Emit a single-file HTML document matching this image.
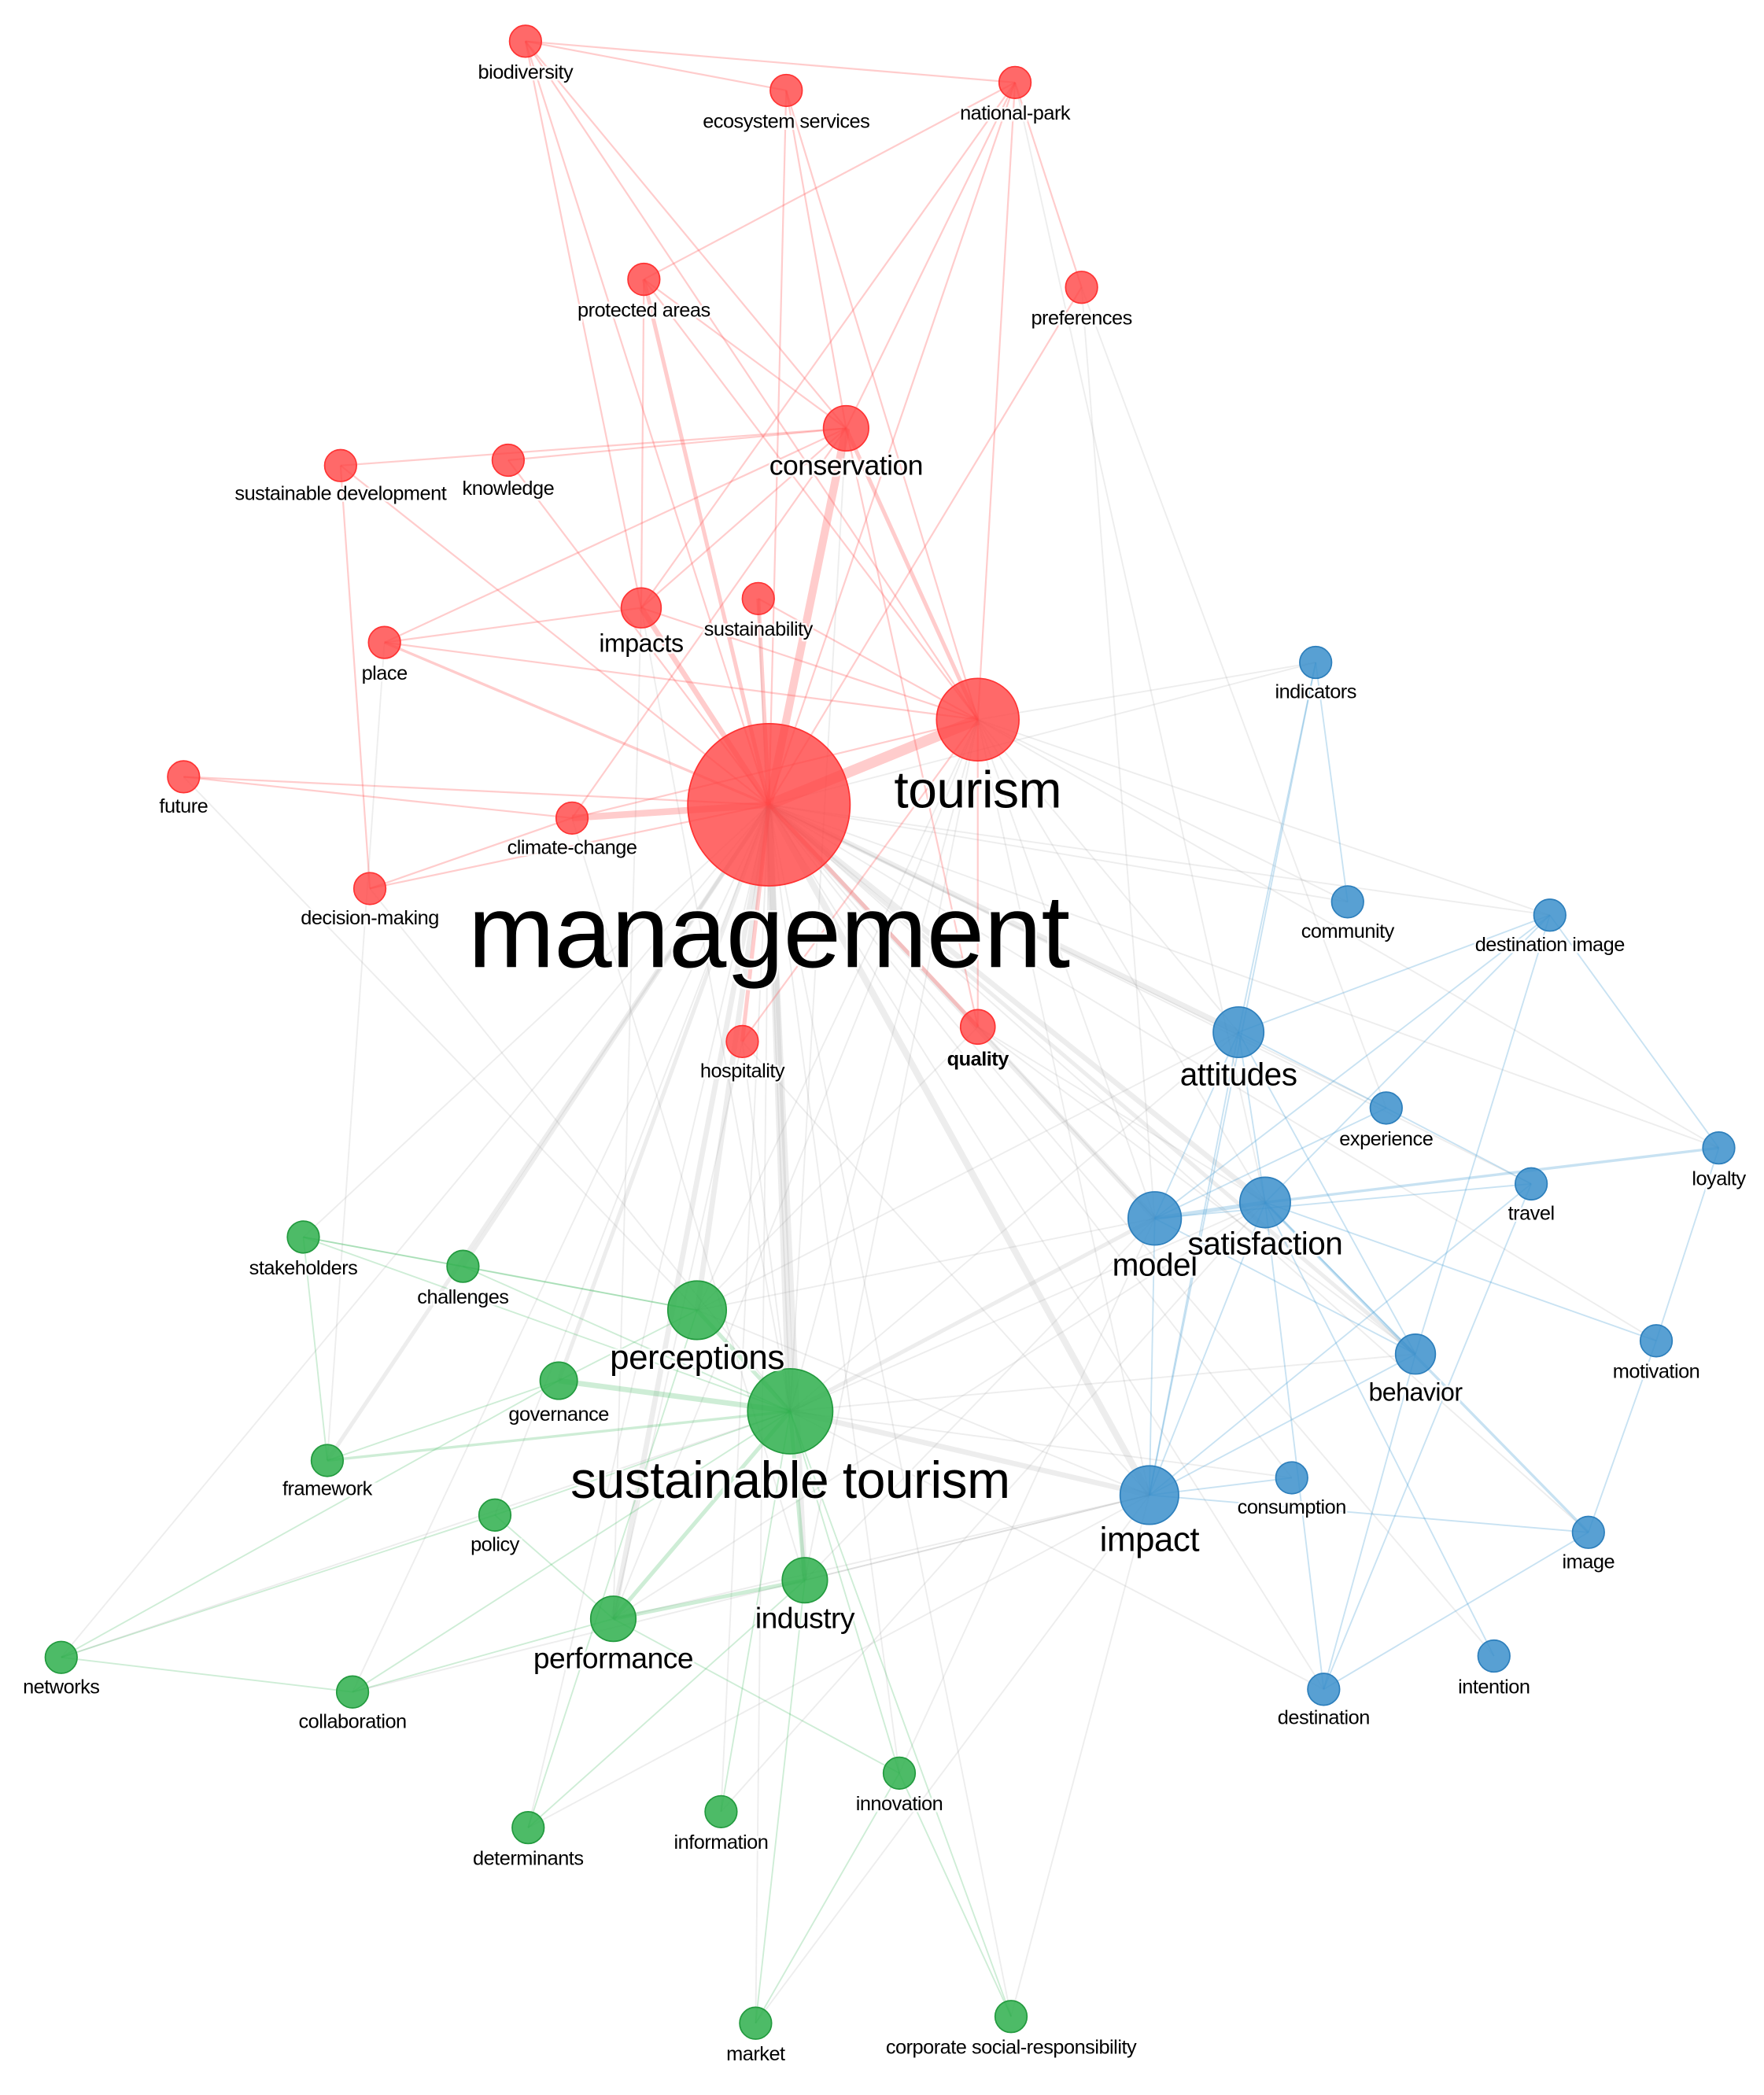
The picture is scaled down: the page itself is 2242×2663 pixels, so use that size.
<!DOCTYPE html>
<html><head><meta charset="utf-8"><style>
html,body{margin:0;padding:0;background:#fff;}
svg{display:block;}
text{font-family:"Liberation Sans",sans-serif;fill:#000;text-anchor:middle;stroke:#fff;stroke-width:3px;paint-order:stroke;stroke-opacity:.8;letter-spacing:-0.3px}
.g line{stroke:#999;stroke-opacity:.18;stroke-width:1.1}
.r line{stroke:#f55;stroke-opacity:.3;stroke-width:1.3}
.b line{stroke:#4a9fd4;stroke-opacity:.3;stroke-width:1.1}
.gr line{stroke:#3cb85a;stroke-opacity:.25;stroke-width:1.1}
.rn circle{fill:#f44;fill-opacity:.8;stroke:#f33;stroke-width:1}
.bn circle{fill:#3b8fcb;fill-opacity:.85;stroke:#2d7fbc;stroke-width:1}
.gn circle{fill:#2eaf4c;fill-opacity:.85;stroke:#229a3e;stroke-width:1}
</style></head><body>
<svg width="2242" height="2663" viewBox="0 0 1326 1575" xmlns="http://www.w3.org/2000/svg">
<g class="g">
<line x1="578" y1="605" x2="989" y2="498"/><line x1="578" y1="605" x2="1013" y2="678"/><line x1="578" y1="605" x2="1165" y2="688"/>
<line x1="578" y1="605" x2="931" y2="776" style="stroke-width:4"/><line x1="578" y1="605" x2="1042" y2="833"/><line x1="578" y1="605" x2="1292" y2="863"/>
<line x1="578" y1="605" x2="1151" y2="890"/><line x1="578" y1="605" x2="868" y2="916" style="stroke-width:4"/><line x1="578" y1="605" x2="951" y2="904" style="stroke-width:4"/>
<line x1="578" y1="605" x2="1245" y2="1008"/><line x1="578" y1="605" x2="1064" y2="1018" style="stroke-width:3"/><line x1="578" y1="605" x2="971" y2="1111"/>
<line x1="578" y1="605" x2="864" y2="1124" style="stroke-width:5"/><line x1="578" y1="605" x2="1194" y2="1152"/><line x1="578" y1="605" x2="1123" y2="1245"/>
<line x1="578" y1="605" x2="995" y2="1270"/>
<line x1="578" y1="605" x2="228" y2="930"/><line x1="578" y1="605" x2="348" y2="952" style="stroke-width:3"/><line x1="578" y1="605" x2="524" y2="985" style="stroke-width:4"/>
<line x1="578" y1="605" x2="420" y2="1038" style="stroke-width:3"/><line x1="578" y1="605" x2="594" y2="1061" style="stroke-width:6"/><line x1="578" y1="605" x2="246" y2="1098" style="stroke-width:3"/>
<line x1="578" y1="605" x2="372" y2="1139"/><line x1="578" y1="605" x2="605" y2="1188" style="stroke-width:4"/><line x1="578" y1="605" x2="461" y2="1217" style="stroke-width:4"/>
<line x1="578" y1="605" x2="46" y2="1246"/><line x1="578" y1="605" x2="265" y2="1272"/><line x1="578" y1="605" x2="676" y2="1333"/>
<line x1="578" y1="605" x2="542" y2="1362"/><line x1="578" y1="605" x2="397" y2="1374"/><line x1="578" y1="605" x2="568" y2="1521"/><line x1="578" y1="605" x2="760" y2="1516"/>
<line x1="735" y1="541" x2="931" y2="776"/><line x1="735" y1="541" x2="868" y2="916"/><line x1="735" y1="541" x2="951" y2="904"/><line x1="735" y1="541" x2="864" y2="1124"/>
<line x1="735" y1="541" x2="1165" y2="688"/><line x1="735" y1="541" x2="1013" y2="678"/><line x1="735" y1="541" x2="989" y2="498"/><line x1="735" y1="541" x2="1292" y2="863"/>
<line x1="735" y1="541" x2="524" y2="985"/><line x1="735" y1="541" x2="594" y2="1061"/><line x1="735" y1="541" x2="461" y2="1217"/><line x1="735" y1="541" x2="605" y2="1188"/>
<line x1="594" y1="1061" x2="868" y2="916" style="stroke-width:3"/><line x1="594" y1="1061" x2="864" y2="1124" style="stroke-width:4"/><line x1="594" y1="1061" x2="931" y2="776"/>
<line x1="594" y1="1061" x2="951" y2="904"/><line x1="594" y1="1061" x2="1064" y2="1018"/><line x1="594" y1="1061" x2="971" y2="1111"/><line x1="594" y1="1061" x2="995" y2="1270"/>
<line x1="594" y1="1061" x2="558" y2="783"/><line x1="594" y1="1061" x2="482" y2="457"/><line x1="594" y1="1061" x2="636" y2="322"/><line x1="594" y1="1061" x2="570" y2="450"/>
<line x1="864" y1="1124" x2="461" y2="1217"/><line x1="864" y1="1124" x2="605" y2="1188"/><line x1="864" y1="1124" x2="524" y2="985"/><line x1="864" y1="1124" x2="265" y2="1272"/>
<line x1="868" y1="916" x2="524" y2="985"/><line x1="868" y1="916" x2="605" y2="1188"/><line x1="931" y1="776" x2="524" y2="985"/><line x1="951" y1="904" x2="461" y2="1217"/>
<line x1="813" y1="216" x2="868" y2="916"/><line x1="813" y1="216" x2="1042" y2="833"/><line x1="763" y1="62" x2="951" y2="904"/><line x1="138" y1="584" x2="524" y2="985"/>
<line x1="278" y1="668" x2="594" y2="1061"/><line x1="430" y1="615" x2="605" y2="1188"/><line x1="289" y1="483" x2="246" y2="1098"/><line x1="482" y1="457" x2="461" y2="1217"/>
<line x1="735" y1="772" x2="868" y2="916"/><line x1="735" y1="772" x2="951" y2="904"/><line x1="735" y1="772" x2="1064" y2="1018"/><line x1="735" y1="772" x2="524" y2="985"/>
<line x1="558" y1="783" x2="461" y2="1217"/><line x1="558" y1="783" x2="864" y2="1124"/><line x1="760" y1="1516" x2="864" y2="1124"/><line x1="568" y1="1521" x2="864" y2="1124"/>
<line x1="46" y1="1246" x2="594" y2="1061"/><line x1="397" y1="1374" x2="864" y2="1124"/><line x1="542" y1="1362" x2="951" y2="904"/><line x1="676" y1="1333" x2="868" y2="916"/>
</g>
<g class="r">
<line x1="578" y1="605" x2="735" y2="541" style="stroke-width:8"/><line x1="578" y1="605" x2="636" y2="322" style="stroke-width:6"/><line x1="578" y1="605" x2="482" y2="457" style="stroke-width:4"/>
<line x1="578" y1="605" x2="570" y2="450" style="stroke-width:3"/><line x1="578" y1="605" x2="484" y2="210" style="stroke-width:3"/><line x1="578" y1="605" x2="395" y2="31"/>
<line x1="578" y1="605" x2="591" y2="68"/><line x1="578" y1="605" x2="763" y2="62"/><line x1="578" y1="605" x2="813" y2="216"/><line x1="578" y1="605" x2="256" y2="350"/>
<line x1="578" y1="605" x2="382" y2="346"/><line x1="578" y1="605" x2="289" y2="483" style="stroke-width:2"/><line x1="578" y1="605" x2="138" y2="584"/>
<line x1="578" y1="605" x2="430" y2="615" style="stroke-width:5"/><line x1="578" y1="605" x2="278" y2="668"/><line x1="578" y1="605" x2="558" y2="783" style="stroke-width:3"/>
<line x1="578" y1="605" x2="735" y2="772" style="stroke-width:3"/>
<line x1="735" y1="541" x2="636" y2="322" style="stroke-width:3"/><line x1="735" y1="541" x2="482" y2="457"/><line x1="735" y1="541" x2="570" y2="450"/><line x1="735" y1="541" x2="484" y2="210"/>
<line x1="735" y1="541" x2="395" y2="31"/><line x1="735" y1="541" x2="763" y2="62"/><line x1="735" y1="541" x2="289" y2="483"/><line x1="735" y1="541" x2="430" y2="615"/>
<line x1="735" y1="541" x2="735" y2="772"/><line x1="735" y1="541" x2="558" y2="783"/><line x1="735" y1="541" x2="591" y2="68"/>
<line x1="395" y1="31" x2="591" y2="68"/><line x1="395" y1="31" x2="763" y2="62"/><line x1="395" y1="31" x2="636" y2="322"/><line x1="395" y1="31" x2="482" y2="457"/>
<line x1="591" y1="68" x2="636" y2="322"/><line x1="763" y1="62" x2="484" y2="210"/><line x1="763" y1="62" x2="636" y2="322"/><line x1="763" y1="62" x2="813" y2="216"/><line x1="763" y1="62" x2="482" y2="457"/>
<line x1="484" y1="210" x2="636" y2="322"/><line x1="484" y1="210" x2="482" y2="457"/><line x1="256" y1="350" x2="636" y2="322"/><line x1="256" y1="350" x2="278" y2="668"/>
<line x1="382" y1="346" x2="636" y2="322"/><line x1="289" y1="483" x2="636" y2="322"/><line x1="289" y1="483" x2="482" y2="457"/><line x1="138" y1="584" x2="430" y2="615"/>
<line x1="278" y1="668" x2="430" y2="615"/><line x1="636" y1="322" x2="482" y2="457"/><line x1="636" y1="322" x2="735" y2="772"/><line x1="636" y1="322" x2="430" y2="615"/>
</g>
<g class="b">
<line x1="989" y1="498" x2="1013" y2="678"/><line x1="989" y1="498" x2="931" y2="776"/><line x1="989" y1="498" x2="864" y2="1124"/>
<line x1="1165" y1="688" x2="931" y2="776"/><line x1="1165" y1="688" x2="951" y2="904"/><line x1="1165" y1="688" x2="868" y2="916"/><line x1="1165" y1="688" x2="1292" y2="863"/><line x1="1165" y1="688" x2="1064" y2="1018"/>
<line x1="931" y1="776" x2="868" y2="916"/><line x1="931" y1="776" x2="951" y2="904"/><line x1="931" y1="776" x2="1042" y2="833"/><line x1="931" y1="776" x2="864" y2="1124"/><line x1="931" y1="776" x2="1064" y2="1018"/>
<line x1="868" y1="916" x2="951" y2="904" style="stroke-width:3"/><line x1="868" y1="916" x2="864" y2="1124"/><line x1="868" y1="916" x2="1064" y2="1018"/><line x1="868" y1="916" x2="1151" y2="890"/>
<line x1="951" y1="904" x2="1292" y2="863" style="stroke-width:2"/><line x1="951" y1="904" x2="1064" y2="1018"/><line x1="951" y1="904" x2="1194" y2="1152" style="stroke-width:2"/><line x1="951" y1="904" x2="864" y2="1124"/>
<line x1="951" y1="904" x2="1123" y2="1245"/><line x1="1042" y1="833" x2="1151" y2="890"/><line x1="1042" y1="833" x2="868" y2="916"/><line x1="1292" y1="863" x2="1245" y2="1008"/>
<line x1="1245" y1="1008" x2="1194" y2="1152"/><line x1="1245" y1="1008" x2="951" y2="904"/><line x1="1064" y1="1018" x2="864" y2="1124"/><line x1="1064" y1="1018" x2="995" y2="1270"/>
<line x1="864" y1="1124" x2="971" y2="1111"/><line x1="864" y1="1124" x2="1194" y2="1152"/><line x1="995" y1="1270" x2="1194" y2="1152"/><line x1="995" y1="1270" x2="951" y2="904"/>
<line x1="1151" y1="890" x2="864" y2="1124"/><line x1="1151" y1="890" x2="995" y2="1270"/>
</g>
<g class="gr">
<line x1="228" y1="930" x2="348" y2="952"/><line x1="228" y1="930" x2="594" y2="1061"/><line x1="228" y1="930" x2="524" y2="985"/><line x1="228" y1="930" x2="246" y2="1098"/>
<line x1="348" y1="952" x2="594" y2="1061"/><line x1="348" y1="952" x2="524" y2="985"/><line x1="524" y1="985" x2="594" y2="1061" style="stroke-width:3"/><line x1="524" y1="985" x2="420" y2="1038"/>
<line x1="420" y1="1038" x2="594" y2="1061" style="stroke-width:4"/><line x1="246" y1="1098" x2="594" y2="1061" style="stroke-width:2"/><line x1="372" y1="1139" x2="594" y2="1061"/>
<line x1="605" y1="1188" x2="594" y2="1061" style="stroke-width:3"/><line x1="461" y1="1217" x2="594" y2="1061" style="stroke-width:3"/><line x1="461" y1="1217" x2="605" y2="1188" style="stroke-width:3"/>
<line x1="46" y1="1246" x2="372" y2="1139"/><line x1="46" y1="1246" x2="265" y2="1272"/><line x1="46" y1="1246" x2="420" y2="1038"/><line x1="265" y1="1272" x2="594" y2="1061"/>
<line x1="265" y1="1272" x2="461" y2="1217"/><line x1="676" y1="1333" x2="594" y2="1061"/><line x1="676" y1="1333" x2="461" y2="1217"/><line x1="676" y1="1333" x2="760" y2="1516"/>
<line x1="542" y1="1362" x2="594" y2="1061"/><line x1="397" y1="1374" x2="605" y2="1188"/><line x1="397" y1="1374" x2="524" y2="985"/><line x1="568" y1="1521" x2="605" y2="1188"/>
<line x1="568" y1="1521" x2="676" y2="1333"/><line x1="760" y1="1516" x2="594" y2="1061"/><line x1="246" y1="1098" x2="420" y2="1038"/><line x1="372" y1="1139" x2="461" y2="1217"/>
</g>
<g class="rn">
<circle cx="395" cy="31" r="12"/><circle cx="591" cy="68" r="12"/><circle cx="763" cy="62" r="12"/><circle cx="484" cy="210" r="12"/><circle cx="813" cy="216" r="12"/>
<circle cx="636" cy="322" r="17"/><circle cx="256" cy="350" r="12"/><circle cx="382" cy="346" r="12"/><circle cx="482" cy="457" r="15"/><circle cx="570" cy="450" r="12"/>
<circle cx="289" cy="483" r="12"/><circle cx="735" cy="541" r="31"/><circle cx="578" cy="605" r="61"/><circle cx="138" cy="584" r="12"/><circle cx="430" cy="615" r="12"/>
<circle cx="278" cy="668" r="12"/><circle cx="558" cy="783" r="12"/><circle cx="735" cy="772" r="13"/>
</g>
<g class="bn">
<circle cx="989" cy="498" r="12"/><circle cx="1013" cy="678" r="12"/><circle cx="1165" cy="688" r="12"/><circle cx="931" cy="776" r="19"/><circle cx="1042" cy="833" r="12"/>
<circle cx="1292" cy="863" r="12"/><circle cx="1151" cy="890" r="12"/><circle cx="868" cy="916" r="20"/><circle cx="951" cy="904" r="19"/><circle cx="1245" cy="1008" r="12"/>
<circle cx="1064" cy="1018" r="15"/><circle cx="971" cy="1111" r="12"/><circle cx="864" cy="1124" r="22"/><circle cx="1194" cy="1152" r="12"/><circle cx="1123" cy="1245" r="12"/><circle cx="995" cy="1270" r="12"/>
</g>
<g class="gn">
<circle cx="228" cy="930" r="12"/><circle cx="348" cy="952" r="12"/><circle cx="524" cy="985" r="22"/><circle cx="420" cy="1038" r="14"/><circle cx="594" cy="1061" r="32"/>
<circle cx="246" cy="1098" r="12"/><circle cx="372" cy="1139" r="12"/><circle cx="605" cy="1188" r="17"/><circle cx="461" cy="1217" r="17"/><circle cx="46" cy="1246" r="12"/>
<circle cx="265" cy="1272" r="12"/><circle cx="676" cy="1333" r="12"/><circle cx="542" cy="1362" r="12"/><circle cx="397" cy="1374" r="12"/><circle cx="568" cy="1521" r="12"/><circle cx="760" cy="1516" r="12"/>
</g>
<g font-size="15">
<text x="395" y="59">biodiversity</text><text x="591" y="96">ecosystem services</text><text x="763" y="90">national-park</text>
<text x="484" y="238">protected areas</text><text x="813" y="244">preferences</text><text x="636" y="357" font-size="21">conservation</text>
<text x="256" y="376">sustainable development</text><text x="382" y="372">knowledge</text><text x="482" y="490" font-size="19">impacts</text>
<text x="570" y="478">sustainability</text><text x="289" y="511">place</text><text x="735" y="607" font-size="39">tourism</text>
<text x="578" y="727" font-size="78" letter-spacing="-2">management</text><text x="138" y="611">future</text><text x="430" y="642">climate-change</text>
<text x="278" y="695">decision-making</text><text x="558" y="810">hospitality</text><text x="735" y="801" font-weight="bold">quality</text>
<text x="989" y="525">indicators</text><text x="1013" y="705">community</text><text x="1165" y="715">destination image</text>
<text x="931" y="816" font-size="24">attitudes</text><text x="1042" y="861">experience</text><text x="1292" y="891">loyalty</text><text x="1151" y="917">travel</text>
<text x="868" y="959" font-size="24">model</text><text x="951" y="943" font-size="24">satisfaction</text><text x="1245" y="1036">motivation</text>
<text x="1064" y="1053" font-size="19">behavior</text><text x="971" y="1138">consumption</text><text x="864" y="1166" font-size="26">impact</text>
<text x="1194" y="1179">image</text><text x="1123" y="1273">intention</text><text x="995" y="1296">destination</text>
<text x="228" y="958">stakeholders</text><text x="348" y="980">challenges</text><text x="524" y="1029" font-size="26">perceptions</text>
<text x="420" y="1068">governance</text><text x="594" y="1126" font-size="39">sustainable tourism</text><text x="246" y="1124">framework</text>
<text x="372" y="1166">policy</text><text x="605" y="1224" font-size="22">industry</text><text x="461" y="1254" font-size="22">performance</text>
<text x="46" y="1273">networks</text><text x="265" y="1299">collaboration</text><text x="676" y="1361">innovation</text>
<text x="542" y="1390">information</text><text x="397" y="1402">determinants</text><text x="568" y="1549">market</text><text x="760" y="1544">corporate social-responsibility</text>
</g>
</svg>
</body></html>
